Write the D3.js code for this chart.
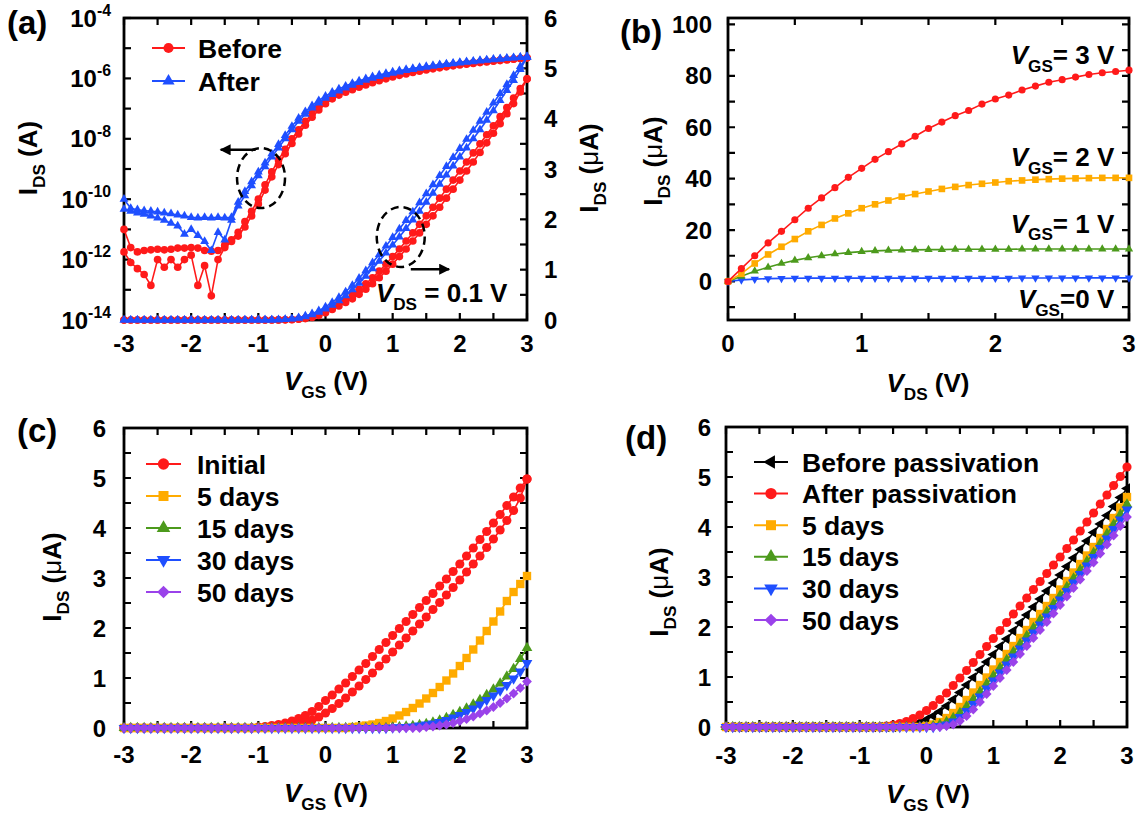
<!DOCTYPE html>
<html>
<head>
<meta charset="utf-8">
<script src="https://cdn.jsdelivr.net/npm/d3@7"></script>
<style>
  body { margin: 0; background: #fff; }
  svg text { font-family: "Liberation Sans", Arial, Helvetica, sans-serif; font-weight: bold; fill: #000; }
</style>
</head>
<body>
<svg id="fig" width="1142" height="814"></svg>
<script>
// ---------- data ----------
const vgs = [-3,-2.9,-2.8,-2.7,-2.6,-2.5,-2.4,-2.3,-2.2,-2.1,
  -2,-1.9,-1.8,-1.7,-1.6,-1.5,-1.4,-1.3,-1.2,-1.1,
  -1,-0.9,-0.8,-0.7,-0.6,-0.5,-0.4,-0.3,-0.2,-0.1,
  0,0.1,0.2,0.3,0.4,0.5,0.6,0.7,0.8,0.9,
  1,1.1,1.2,1.3,1.4,1.5,1.6,1.7,1.8,1.9,
  2,2.1,2.2,2.3,2.4,2.5,2.6,2.7,2.8,2.9,
  3];
const vds = [0,0.1,0.2,0.3,0.4,0.5,0.6,0.7,0.8,0.9,
  1,1.1,1.2,1.3,1.4,1.5,1.6,1.7,1.8,1.9,
  2,2.1,2.2,2.3,2.4,2.5,2.6,2.7,2.8,2.9,3];

// (a) transfer curves at VDS = 0.1 V, current in A, two sweeps each
const beforeA = [1e-11,2.5e-12,1.8e-12,2e-12,2.1e-12,2.2e-12,2.1e-12,2.2e-12,2.4e-12,2.4e-12,
  2.5e-12,2.4e-12,2e-12,1.9e-12,2e-12,3e-12,4.5e-12,8e-12,1.8e-11,4e-11,
  1e-10,3e-10,8e-10,2e-9,4.5e-9,1e-8,2e-8,3.8e-8,6.8e-8,1.15e-7,
  1.8e-7,2.55e-7,3.4e-7,4.2e-7,5.1e-7,6.1e-7,7.2e-7,8.4e-7,9.7e-7,1.11e-6,
  1.26e-6,1.41e-6,1.57e-6,1.73e-6,1.9e-6,2.07e-6,2.24e-6,2.42e-6,2.6e-6,2.78e-6,
  2.96e-6,3.14e-6,3.32e-6,3.5e-6,3.68e-6,3.86e-6,4.04e-6,4.22e-6,4.41e-6,4.6e-6,
  4.79e-6];
const beforeB = [1.8e-12,8e-13,5e-13,3.2e-13,1.4e-13,1e-12,5.6e-13,1e-12,5.6e-13,1e-12,
  1.4e-12,1.4e-13,6.3e-13,6.3e-14,1e-12,2.5e-12,4e-12,6e-12,1.2e-11,2.8e-11,
  7e-11,2e-10,5.5e-10,1.4e-9,3.2e-9,7e-9,1.45e-8,2.8e-8,5.2e-8,9e-8,
  1.45e-7,2.1e-7,2.8e-7,3.5e-7,4.2e-7,5.1e-7,6.1e-7,7.2e-7,8.4e-7,9.7e-7,
  1.11e-6,1.26e-6,1.41e-6,1.57e-6,1.73e-6,1.9e-6,2.07e-6,2.24e-6,2.42e-6,2.6e-6,
  2.78e-6,2.96e-6,3.14e-6,3.33e-6,3.52e-6,3.71e-6,3.9e-6,4.1e-6,4.3e-6,4.53e-6,
  4.79e-6];
const afterA = [1e-10,5e-11,4.5e-11,4.2e-11,4e-11,3.8e-11,3.5e-11,3.3e-11,3e-11,2.8e-11,
  2.5e-11,2.4e-11,2.5e-11,2.4e-11,2.5e-11,2.4e-11,2.5e-11,8e-11,1.8e-10,3.8e-10,
  8e-10,1.6e-9,3.2e-9,6.5e-9,1.3e-8,2.6e-8,4.8e-8,8e-8,1.25e-7,1.85e-7,
  2.6e-7,3.5e-7,4.5e-7,5.6e-7,6.9e-7,8.3e-7,9.8e-7,1.14e-6,1.3e-6,1.47e-6,
  1.64e-6,1.81e-6,1.98e-6,2.15e-6,2.33e-6,2.51e-6,2.69e-6,2.87e-6,3.05e-6,3.23e-6,
  3.41e-6,3.59e-6,3.77e-6,3.95e-6,4.13e-6,4.31e-6,4.5e-6,4.68e-6,4.86e-6,5.04e-6,
  5.22e-6];
const afterB = [4.7e-11,4e-11,3.5e-11,3.2e-11,2.8e-11,2.4e-11,2e-11,1.6e-11,1.3e-11,7e-12,
  1e-11,6.3e-12,4e-12,2e-12,8e-12,4.5e-12,2e-11,6e-11,1.3e-10,2.8e-10,
  6e-10,1.2e-9,2.5e-9,5e-9,1e-8,2e-8,3.8e-8,6.5e-8,1.05e-7,1.55e-7,
  2.2e-7,2.95e-7,3.85e-7,4.85e-7,6e-7,7.3e-7,8.7e-7,1.02e-6,1.17e-6,1.33e-6,
  1.49e-6,1.65e-6,1.82e-6,1.99e-6,2.16e-6,2.34e-6,2.52e-6,2.7e-6,2.88e-6,3.06e-6,
  3.24e-6,3.42e-6,3.6e-6,3.78e-6,3.97e-6,4.16e-6,4.36e-6,4.56e-6,4.76e-6,4.98e-6,
  5.22e-6];

// (b) output curves, IDS in uA
const outV3 = [0,5,10,15,19.5,24,28.5,32.5,36.5,40.5,44,47.5,50.5,53.5,56.5,59.5,62,64.5,66.5,69,
  71,72.5,74.5,76,77.5,78.5,79.5,80.5,81.2,81.7,82.2];
const outV2 = [0,3,7,10.5,13.5,16.5,19.5,22,24.5,26.5,28.5,30,31.5,33,34,35,36,36.8,37.5,38,
  38.5,39,39.3,39.6,39.8,40,40.1,40.2,40.3,40.3,40.3];
const outV1 = [0,2,4,5.5,7,8.2,9.2,10,10.7,11.2,11.6,11.9,12.1,12.2,12.3,12.4,12.4,12.5,12.5,12.5,
  12.5,12.5,12.6,12.6,12.6,12.6,12.6,12.6,12.6,12.6,12.6];
const outV0 = [0,0.6,0.9,1.1,1.2,1.25,1.3,1.3,1.3,1.3,1.3,1.3,1.3,1.3,1.3,1.3,1.3,1.3,1.3,1.3,
  1.3,1.3,1.35,1.35,1.35,1.35,1.4,1.4,1.4,1.4,1.4];

// (c) ageing without passivation, IDS in uA
const cInitialA = [0,0,0,0,0,0,0,0,0,0,
  0,0,0,0,0,0,0,0,0,0,
  0.02,0.03,0.05,0.07,0.1,0.14,0.19,0.25,0.33,0.43,
  0.55,0.66,0.78,0.9,1.03,1.16,1.29,1.43,1.57,1.71,
  1.85,1.99,2.13,2.27,2.41,2.55,2.69,2.84,2.98,3.13,
  3.28,3.44,3.6,3.77,3.93,4.1,4.27,4.45,4.62,4.8,
  4.98];
const cInitialB = [0,0,0,0,0,0,0,0,0,0,
  0,0,0,0,0,0,0,0,0,0,
  0,0,0.01,0.02,0.03,0.05,0.08,0.11,0.16,0.22,
  0.3,0.39,0.49,0.6,0.72,0.84,0.97,1.1,1.24,1.38,
  1.52,1.66,1.8,1.94,2.08,2.22,2.37,2.51,2.66,2.81,
  2.96,3.12,3.28,3.44,3.61,3.78,3.96,4.15,4.35,4.6,
  4.98];
const c5days = [0,0,0,0,0,0,0,0,0,0,
  0,0,0,0,0,0,0,0,0,0,
  0,0,0,0,0,0,0,0,0,0,
  0,0,0,0,0.02,0.03,0.05,0.07,0.1,0.14,
  0.19,0.25,0.32,0.4,0.49,0.59,0.7,0.82,0.95,1.09,
  1.24,1.4,1.57,1.75,1.94,2.13,2.33,2.54,2.72,2.88,
  3.04];
const c15days = [0,0,0,0,0,0,0,0,0,0,
  0,0,0,0,0,0,0,0,0,0,
  0,0,0,0,0,0,0,0,0,0,
  0,0,0,0,0,0,0,0,0,0,
  0.01,0.02,0.03,0.04,0.06,0.08,0.11,0.15,0.2,0.26,
  0.32,0.39,0.47,0.56,0.66,0.77,0.89,1.03,1.18,1.38,
  1.6];
const c30days = [0,0,0,0,0,0,0,0,0,0,
  0,0,0,0,0,0,0,0,0,0,
  0,0,0,0,0,0,0,0,0,0,
  0,0,0,0,0,0,0,0,0,0,
  0.01,0.015,0.02,0.03,0.05,0.07,0.09,0.12,0.16,0.21,
  0.26,0.32,0.39,0.47,0.56,0.65,0.75,0.86,0.99,1.13,
  1.3];
const c50days = [0,0,0,0,0,0,0,0,0,0,
  0,0,0,0,0,0,0,0,0,0,
  0,0,0,0,0,0,0,0,0,0,
  0,0,0,0,0,0,0,0,0,0,
  0,0,0,0,0,0.02,0.03,0.05,0.07,0.1,
  0.14,0.18,0.23,0.29,0.35,0.42,0.5,0.59,0.69,0.8,
  0.93];

// (d) ageing with passivation, IDS in uA
const dBefore = [0,0,0,0,0,0,0,0,0,0,
  0,0,0,0,0,0,0,0,0,0,
  0,0,0,0,0,0,0.02,0.04,0.06,0.1,
  0.15,0.22,0.31,0.42,0.55,0.69,0.84,0.99,1.14,1.3,
  1.45,1.61,1.76,1.92,2.08,2.24,2.4,2.56,2.72,2.88,
  3.04,3.21,3.38,3.55,3.72,3.89,4.06,4.23,4.41,4.59,
  4.77];
const dAfter = [0,0,0,0,0,0,0,0,0,0,
  0,0,0,0,0,0,0,0,0,0,
  0,0,0,0,0.02,0.04,0.07,0.11,0.17,0.24,
  0.33,0.43,0.55,0.68,0.83,0.98,1.13,1.29,1.45,1.61,
  1.77,1.93,2.09,2.26,2.42,2.58,2.75,2.91,3.07,3.24,
  3.4,3.57,3.74,3.92,4.1,4.28,4.46,4.64,4.83,5.01,
  5.2];
const d5days = [0,0,0,0,0,0,0,0,0,0,
  0,0,0,0,0,0,0,0,0,0,
  0,0,0,0,0,0,0,0,0,0,
  0.02,0.05,0.1,0.18,0.28,0.4,0.54,0.69,0.84,0.99,
  1.15,1.3,1.46,1.62,1.78,1.94,2.1,2.26,2.42,2.58,
  2.75,2.92,3.09,3.26,3.43,3.6,3.78,3.96,4.18,4.39,
  4.6];
const d15days = [0,0,0,0,0,0,0,0,0,0,
  0,0,0,0,0,0,0,0,0,0,
  0,0,0,0,0,0,0,0,0,0,
  0,0.02,0.05,0.1,0.18,0.28,0.41,0.55,0.7,0.86,
  1.02,1.18,1.34,1.5,1.66,1.82,1.98,2.14,2.3,2.46,
  2.63,2.8,2.97,3.14,3.31,3.48,3.67,3.86,4.05,4.25,
  4.45];
const d30days = [0,0,0,0,0,0,0,0,0,0,
  0,0,0,0,0,0,0,0,0,0,
  0,0,0,0,0,0,0,0,0,0,
  0,0,0.02,0.05,0.11,0.2,0.32,0.46,0.61,0.77,
  0.93,1.09,1.25,1.41,1.57,1.73,1.89,2.05,2.21,2.38,
  2.55,2.72,2.89,3.06,3.23,3.4,3.58,3.77,3.96,4.15,
  4.35];
const d50days = [0,0,0,0,0,0,0,0,0,0,
  0,0,0,0,0,0,0,0,0,0,
  0,0,0,0,0,0,0,0,0,0,
  0,0,0,0.02,0.05,0.12,0.22,0.35,0.5,0.66,
  0.82,0.98,1.14,1.3,1.46,1.62,1.78,1.94,2.1,2.27,
  2.44,2.61,2.78,2.95,3.12,3.29,3.47,3.65,3.83,4.02,
  4.2];

// tick labels
const vgsTicks = [-3,-2,-1,0,1,2,3];
const vdsTicks = [0,1,2,3];
const logExp = [-4,-6,-8,-10,-12,-14];
const uaTicks = [0,1,2,3,4,5,6];
const outTicks = [0,20,40,60,80,100];

// ---------- drawing ----------
const RED = "#ff1a1a", BLUE = "#1f4fff", ORANGE = "#ffab00", GREEN = "#4c9a1c", PURPLE = "#9a42ea", BLACK = "#000";
const SHAPES = {
  circle: {type: d3.symbolCircle, rot: 0},
  square: {type: d3.symbolSquare, rot: 0},
  triUp: {type: d3.symbolTriangle, rot: 0},
  triDown: {type: d3.symbolTriangle, rot: 180},
  triLeft: {type: d3.symbolTriangle, rot: -90},
  diamond: {type: d3.symbolSquare, rot: 45}
};
const svg = d3.select("#fig");

const defs = svg.append("defs");
defs.append("marker").attr("id", "ah").attr("viewBox", "0 0 10 10")
  .attr("refX", 9).attr("refY", 5).attr("markerWidth", 13).attr("markerHeight", 11)
  .attr("markerUnits", "userSpaceOnUse").attr("orient", "auto")
  .append("path").attr("d", "M0,0L10,5L0,10z").attr("fill", "#000");

function rich(g, x, y, parts, size, anchor, rot) {
  const t = g.append("text").attr("font-size", size).attr("text-anchor", anchor || "start");
  if (rot) t.attr("transform", `translate(${x},${y}) rotate(${rot})`);
  else t.attr("x", x).attr("y", y);
  let shift = 0;
  parts.forEach(p => {
    const s = t.append("tspan").text(p.t);
    const target = p.sub ? size * 0.3 : p.sup ? -size * 0.45 : 0;
    if (target - shift !== 0) s.attr("dy", target - shift);
    shift = target;
    if (p.sub || p.sup) s.attr("font-size", size * 0.66);
    if (p.it) s.attr("font-style", "italic");
    if (p.normal) s.attr("font-weight", "normal");
  });
  return t;
}

function frame(g, b) {
  g.append("rect").attr("x", b.x0).attr("y", b.y0)
    .attr("width", b.x1 - b.x0).attr("height", b.y1 - b.y0)
    .attr("fill", "none").attr("stroke", "#000").attr("stroke-width", 2.8);
}

function ticksX(g, sx, b, vals, len = 7) {
  g.append("g").selectAll("path").data(vals).join("path")
    .attr("d", v => `M${sx(v)},${b.y1}v${-len}M${sx(v)},${b.y0}v${len}`)
    .attr("stroke", "#000").attr("stroke-width", 2.2);
}
function ticksY(g, sy, b, vals, side, len = 7) {
  g.append("g").selectAll("path").data(vals).join("path")
    .attr("d", v => {
      let d = "";
      if (side !== "right") d += `M${b.x0},${sy(v)}h${len}`;
      if (side !== "left") d += `M${b.x1},${sy(v)}h${-len}`;
      return d;
    })
    .attr("stroke", "#000").attr("stroke-width", 2.2);
}
function labelsX(g, sx, vals, y, size = 24) {
  g.append("g").selectAll("text").data(vals).join("text")
    .attr("x", v => sx(v)).attr("y", y).attr("text-anchor", "middle")
    .attr("font-size", size).text(v => String(v));
}
function labelsY(g, sy, vals, x, anchor, size = 24) {
  g.append("g").selectAll("text").data(vals).join("text")
    .attr("x", x).attr("y", v => sy(v) + size * 0.36).attr("text-anchor", anchor)
    .attr("font-size", size).text(v => String(v));
}

function series(g, xs, ys, sx, sy, color, shape, size, lw = 1.6) {
  const pts = xs.map((v, i) => [sx(v), sy(ys[i])]);
  g.append("path").attr("d", d3.line()(pts)).attr("fill", "none")
    .attr("stroke", color).attr("stroke-width", lw).attr("stroke-linejoin", "round");
  const s = SHAPES[shape];
  g.append("g").selectAll("path").data(pts).join("path")
    .attr("d", d3.symbol(s.type, size))
    .attr("transform", d => `translate(${d[0]},${d[1]}) rotate(${s.rot})`)
    .attr("fill", color);
}
function loop(g, ysA, ysB, sx, sy, color, shape, size) {
  const xs = vgs.concat(vgs.slice().reverse());
  const ys = ysA.concat(ysB.slice().reverse());
  series(g, xs, ys, sx, sy, color, shape, size);
}

function legend(g, items, x0, xm, x1, xt, y0, dy, size, fs = 26.5) {
  items.forEach((it, i) => {
    const y = y0 + i * dy;
    g.append("line").attr("x1", x0).attr("x2", x1).attr("y1", y).attr("y2", y)
      .attr("stroke", it.color).attr("stroke-width", 2);
    const s = SHAPES[it.shape];
    g.append("path").attr("d", d3.symbol(s.type, size[it.shape]))
      .attr("transform", `translate(${xm},${y}) rotate(${s.rot})`).attr("fill", it.color);
    g.append("text").attr("x", xt).attr("y", y + 9.5).attr("font-size", fs).text(it.label);
  });
}

const halfV = d3.range(-3, 3.001, 0.5);
const ua = [{t: "I"}, {t: "DS", sub: true}, {t: " ("}, {t: "\u03bc", normal: true}, {t: "A)"}];
const vgsTitle = [{t: "V", it: true}, {t: "GS", sub: true}, {t: " (V)"}];

// ===== (a) =====
{
  const b = {x0: 124, x1: 527, y0: 18, y1: 320};
  const g = svg.append("g");
  const sx = d3.scaleLinear([-3, 3], [b.x0, b.x1]);
  const sLog = d3.scaleLog([1e-14, 1e-4], [b.y1, b.y0]);
  const sLin = d3.scaleLinear([0, 6], [b.y1, b.y0]);
  const uA = v => sLin(v * 1e6);
  frame(g, b);
  ticksX(g, sx, b, halfV);
  ticksY(g, sLog, b, d3.range(-14, -3.5, 1).map(e => Math.pow(10, e)), "left");
  ticksY(g, sLin, b, d3.range(0, 6.01, 0.5), "right");

  loop(g, beforeA, beforeB, sx, sLog, RED, "circle", 46);
  loop(g, beforeA, beforeB, sx, uA, RED, "circle", 46);
  loop(g, afterA, afterB, sx, sLog, BLUE, "triUp", 34);
  loop(g, afterA, afterB, sx, uA, BLUE, "triUp", 34);

  labelsX(g, sx, vgsTicks, 352);
  logExp.forEach(e => rich(g, 111, sLog(Math.pow(10, e)) + 8.5, [{t: "10"}, {t: String(e), sup: true}], 24, "end"));
  labelsY(g, sLin, uaTicks, 544, "start");
  rich(g, 37, 158, [{t: "I"}, {t: "DS", sub: true}, {t: " (A)"}], 26, "middle", -90);
  rich(g, 598, 168, ua, 26, "middle", -90);
  rich(g, 326, 390, vgsTitle, 26, "middle");
  g.append("text").attr("x", 7).attr("y", 34).attr("font-size", 33).text("(a)");

  legend(g, [{label: "Before", color: RED, shape: "circle"}, {label: "After", color: BLUE, shape: "triUp"}],
    152, 168.5, 185, 198, 48, 33, {circle: 80, triUp: 64});

  // annotations
  const ell = (cx, cy) => g.append("ellipse").attr("cx", cx).attr("cy", cy).attr("rx", 24).attr("ry", 30)
    .attr("fill", "none").attr("stroke", "#000").attr("stroke-width", 2.5).attr("stroke-dasharray", "8,5");
  ell(sx(-0.96), sLog(5e-10));
  ell(sx(1.12), sLin(1.65));
  g.append("line").attr("x1", sx(-1.04)).attr("x2", sx(-1.56)).attr("y1", sLog(4.3e-9)).attr("y2", sLog(4.3e-9))
    .attr("stroke", "#000").attr("stroke-width", 2.5).attr("marker-end", "url(#ah)");
  g.append("line").attr("x1", sx(1.27)).attr("x2", sx(1.84)).attr("y1", sLin(1.01)).attr("y2", sLin(1.01))
    .attr("stroke", "#000").attr("stroke-width", 2.5).attr("marker-end", "url(#ah)");
  rich(g, sx(0.75), sLin(0.36), [{t: "V", it: true}, {t: "DS", sub: true}, {t: " = 0.1 V"}], 26, "start");
}

// ===== (b) =====
{
  const b = {x0: 728, x1: 1129, y0: 18, y1: 320};
  const g = svg.append("g");
  const sx = d3.scaleLinear([0, 3], [b.x0, b.x1]);
  const sy = d3.scaleLinear([-15, 102.5], [b.y1, b.y0]);
  frame(g, b);
  ticksX(g, sx, b, d3.range(0, 3.01, 0.5));
  ticksY(g, sy, b, d3.range(-10, 100.1, 10), "both");
  series(g, vds, outV0, sx, sy, BLUE, "triDown", 30);
  series(g, vds, outV1, sx, sy, GREEN, "triUp", 30);
  series(g, vds, outV2, sx, sy, ORANGE, "square", 44);
  series(g, vds, outV3, sx, sy, RED, "circle", 40);
  labelsX(g, sx, vdsTicks, 352);
  labelsY(g, sy, outTicks, 712, "end");
  rich(g, 662, 161, ua, 26, "middle", -90);
  rich(g, 928, 392, [{t: "V", it: true}, {t: "DS", sub: true}, {t: " (V)"}], 26, "middle");
  g.append("text").attr("x", 620).attr("y", 43).attr("font-size", 33).text("(b)");
  const ann = [["= 3 V", 84.5], ["= 2 V", 44.8], ["= 1 V", 19], ["=0 V", -10.4]];
  ann.forEach(a => rich(g, sx(2.89), sy(a[1]), [{t: "V", it: true}, {t: "GS", sub: true}, {t: a[0]}], 26, "end"));
}

// ===== (c) =====
{
  const b = {x0: 124, x1: 527, y0: 428, y1: 728};
  const g = svg.append("g");
  const sx = d3.scaleLinear([-3, 3], [b.x0, b.x1]);
  const sy = d3.scaleLinear([0, 6], [b.y1, b.y0]);
  frame(g, b);
  ticksX(g, sx, b, halfV);
  ticksY(g, sy, b, d3.range(0, 6.01, 0.5), "both");
  loop(g, cInitialA, cInitialB, sx, sy, RED, "circle", 66);
  series(g, vgs, c5days, sx, sy, ORANGE, "square", 70);
  series(g, vgs, c15days, sx, sy, GREEN, "triUp", 50);
  series(g, vgs, c30days, sx, sy, BLUE, "triDown", 50);
  series(g, vgs, c50days, sx, sy, PURPLE, "diamond", 48);
  labelsX(g, sx, vgsTicks, 763);
  labelsY(g, sy, uaTicks, 106, "end");
  rich(g, 61, 577, ua, 26, "middle", -90);
  rich(g, 326, 802, vgsTitle, 26, "middle");
  g.append("text").attr("x", 17).attr("y", 442).attr("font-size", 33).text("(c)");
  legend(g, [
    {label: "Initial", color: RED, shape: "circle"},
    {label: "5 days", color: ORANGE, shape: "square"},
    {label: "15 days", color: GREEN, shape: "triUp"},
    {label: "30 days", color: BLUE, shape: "triDown"},
    {label: "50 days", color: PURPLE, shape: "diamond"}
  ], 146, 163.5, 181, 197, 464, 32, {circle: 100, square: 100, triUp: 80, triDown: 80, diamond: 80});
}

// ===== (d) =====
{
  const b = {x0: 726, x1: 1127, y0: 427, y1: 727};
  const g = svg.append("g");
  const sx = d3.scaleLinear([-3, 3], [b.x0, b.x1]);
  const sy = d3.scaleLinear([0, 6], [b.y1, b.y0]);
  frame(g, b);
  ticksX(g, sx, b, halfV);
  ticksY(g, sy, b, d3.range(0, 6.01, 0.5), "both");
  series(g, vgs, dBefore, sx, sy, BLACK, "triLeft", 46);
  series(g, vgs, dAfter, sx, sy, RED, "circle", 66);
  series(g, vgs, d5days, sx, sy, ORANGE, "square", 70);
  series(g, vgs, d15days, sx, sy, GREEN, "triUp", 50);
  series(g, vgs, d30days, sx, sy, BLUE, "triDown", 50);
  series(g, vgs, d50days, sx, sy, PURPLE, "diamond", 48);
  labelsX(g, sx, vgsTicks, 764);
  labelsY(g, sy, uaTicks, 711, "end");
  rich(g, 668, 592, ua, 26, "middle", -90);
  rich(g, 928, 803, vgsTitle, 26, "middle");
  g.append("text").attr("x", 625).attr("y", 449).attr("font-size", 33).text("(d)");
  legend(g, [
    {label: "Before passivation", color: BLACK, shape: "triLeft"},
    {label: "After passivation", color: RED, shape: "circle"},
    {label: "5 days", color: ORANGE, shape: "square"},
    {label: "15 days", color: GREEN, shape: "triUp"},
    {label: "30 days", color: BLUE, shape: "triDown"},
    {label: "50 days", color: PURPLE, shape: "diamond"}
  ], 754, 771, 788, 802, 462, 31.6, {triLeft: 80, circle: 100, square: 100, triUp: 80, triDown: 80, diamond: 80});
}
</script>
</body>
</html>
